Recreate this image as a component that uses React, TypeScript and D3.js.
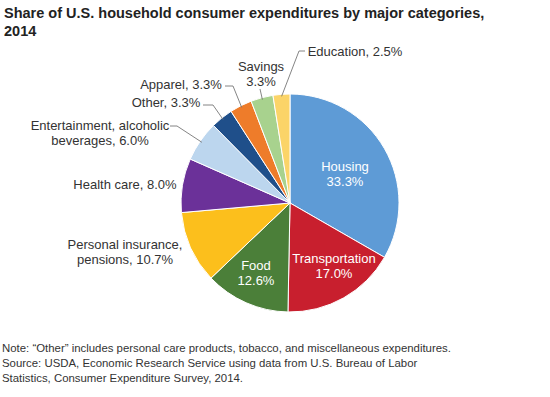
import React from "react";
import * as d3 from "d3";

const categories = [
  "Housing",
  "Transportation",
  "Food",
  "Personal insurance, pensions",
  "Health care",
  "Entertainment, alcoholic beverages",
  "Other",
  "Apparel",
  "Savings",
  "Education",
];
const shares = [33.3, 17.0, 12.6, 10.7, 8.0, 6.0, 3.3, 3.3, 3.3, 2.5];
const colors = [
  "#5e9bd6",
  "#c81f2e",
  "#4b7f39",
  "#fcbf1c",
  "#6b3199",
  "#bcd6ee",
  "#1f4f8a",
  "#ee7c2a",
  "#a8d28e",
  "#fbd468",
];
const labelLines = [
  ["Housing", "33.3%"],
  ["Transportation", "17.0%"],
  ["Food", "12.6%"],
  ["Personal insurance,", "pensions, 10.7%"],
  ["Health care, 8.0%"],
  ["Entertainment, alcoholic", "beverages, 6.0%"],
  ["Other, 3.3%"],
  ["Apparel, 3.3%"],
  ["Savings", "3.3%"],
  ["Education, 2.5%"],
];

const W = 550;
const H = 397;
const cx = 290;
const cy = 203;
const R = 109;
const FONT = "Liberation Sans, Arial, Helvetica, sans-serif";

// label layout: [x, y of first line, anchor, fill]
const labelPos: [number, number, string, string][] = [
  [345, 171, "middle", "#ffffff"],
  [334, 263, "middle", "#ffffff"],
  [256, 270, "middle", "#ffffff"],
  [125, 249, "middle", "#333"],
  [125, 189, "middle", "#333"],
  [100, 130, "middle", "#333"],
  [166, 107, "middle", "#333"],
  [181, 89, "middle", "#333"],
  [261, 71, "middle", "#333"],
  [355, 56, "middle", "#333"],
];
// leader elbows (label-side points); null = no leader
const leaderElbows: ([number, number][] | null)[] = [
  null,
  null,
  null,
  null,
  null,
  [[170, 126], [177, 126]],
  [[203, 105], [213, 105]],
  [[225, 86], [233, 86]],
  [[260, 89]],
  [[305, 51], [299, 51]],
];

export default function App() {
  const pie = d3
    .pie<number>()
    .sort(null)
    .value((d) => d);
  const arcs = pie(shares);
  const arc = d3.arc<d3.PieArcDatum<number>>().innerRadius(0).outerRadius(R);

  const edge = (a: d3.PieArcDatum<number>, r: number): [number, number] => {
    const m = (a.startAngle + a.endAngle) / 2;
    return [cx + Math.sin(m) * r, cy - Math.cos(m) * r];
  };

  return (
    <svg width={W} height={H} style={{ position: "absolute", left: 0, top: 0 }} fontFamily={FONT}>
      <rect width={W} height={H} fill="#fff" />
      <text x={4} y={18} fontSize={14.5} fontWeight="bold" fill="#222">
        Share of U.S. household consumer expenditures by major categories,
      </text>
      <text x={4} y={36} fontSize={14.5} fontWeight="bold" fill="#222">
        2014
      </text>
      <g transform={`translate(${cx},${cy})`}>
        {arcs.map((a, i) => (
          <path key={i} d={arc(a) || ""} fill={colors[i]} stroke="#fff" strokeWidth={1} />
        ))}
      </g>
      {arcs.map((a, i) => {
        const el = leaderElbows[i];
        if (!el) return null;
        const pts: [number, number][] = [...el, edge(a, R - 2)];
        return (
          <path
            key={"l" + i}
            d={d3.line()(pts) || ""}
            fill="none"
            stroke="#777"
            strokeWidth={0.9}
          />
        );
      })}
      {labelLines.map((lines, i) => {
        const [x, y, anchor, fill] = labelPos[i];
        return (
          <text key={"t" + i} x={x} y={y} fontSize={13} textAnchor={anchor} fill={fill}>
            {lines.map((ln, j) => (
              <tspan key={j} x={x} dy={j === 0 ? 0 : 15}>
                {ln}
              </tspan>
            ))}
          </text>
        );
      })}
      <g fontSize={11.4} fill="#333">
        <text x={2} y={352}>
          Note: “Other” includes personal care products, tobacco, and miscellaneous expenditures.
        </text>
        <text x={2} y={367}>
          Source: USDA, Economic Research Service using data from U.S. Bureau of Labor
        </text>
        <text x={2} y={382}>
          Statistics, Consumer Expenditure Survey, 2014.
        </text>
      </g>
    </svg>
  );
}
